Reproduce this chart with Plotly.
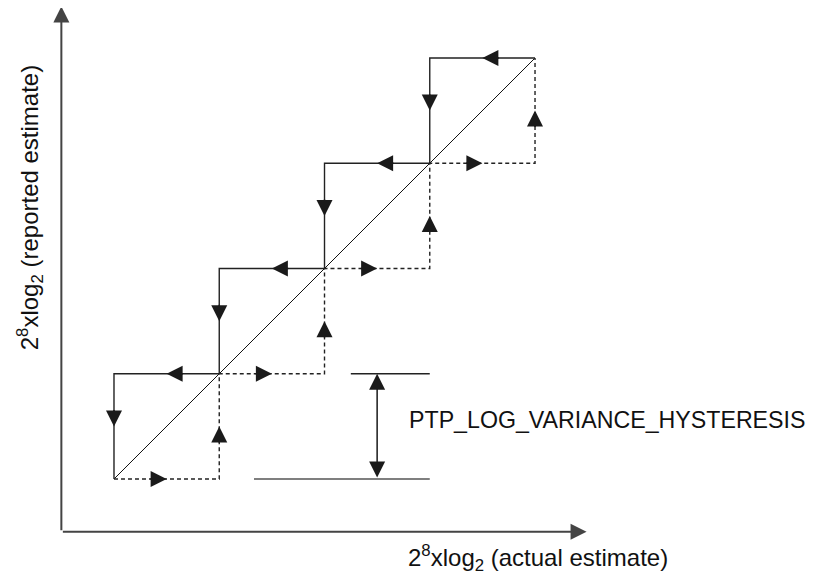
import plotly.graph_objects as go

# ---- data (logical units: one hysteresis step = 1) ----
upper_x = [0, 0, 1, 1, 2, 2, 3, 3, 4]   # solid path (estimate decreasing)
upper_y = [0, 1, 1, 2, 2, 3, 3, 4, 4]
lower_x = [0, 1, 1, 2, 2, 3, 3, 4, 4]   # dashed path (estimate increasing)
lower_y = [0, 0, 1, 1, 2, 2, 3, 3, 4]
diag = [0, 4]
hyst_x = 2.5            # position of the hysteresis dimension arrow
hyst_lo, hyst_hi = 0, 1
hyst_top_line = [2.25, 3]
hyst_bot_line = [1.33, 3]
axis_origin = -0.5       # where the axis lines cross
x_axis_end = 4.49
y_axis_end = 4.49

x_title = "2<sup>8</sup>xlog<sub>2</sub> (actual estimate)"
y_title = "2<sup>8</sup>xlog<sub>2</sub> (reported estimate)"
hyst_label = "PTP_LOG_VARIANCE_HYSTERESIS"

FONT = "Arial, Liberation Sans, Helvetica, sans-serif"
FS = 24
SCALE = 3.2  # arrow head scale (arrowwidth*arrowsize)

fig = go.Figure()
fig.add_trace(go.Scatter(x=diag, y=diag, mode="lines",
                         line=dict(color="#111", width=1), hoverinfo="skip"))
fig.add_trace(go.Scatter(x=upper_x, y=upper_y, mode="lines",
                         line=dict(color="#222", width=1.4), hoverinfo="skip"))
fig.add_trace(go.Scatter(x=lower_x, y=lower_y, mode="lines",
                         line=dict(color="#222", width=1.4, dash="4px,3px"),
                         hoverinfo="skip"))
# hysteresis reference lines
fig.add_trace(go.Scatter(x=hyst_top_line, y=[hyst_hi, hyst_hi], mode="lines",
                         line=dict(color="#222", width=1.3), hoverinfo="skip"))
fig.add_trace(go.Scatter(x=hyst_bot_line, y=[hyst_lo, hyst_lo], mode="lines",
                         line=dict(color="#555", width=1.6), hoverinfo="skip"))

annotations = []


def head(xt, yt, xs, ys, color="#1a1a1a", width=1.5):
    annotations.append(dict(
        x=xt, y=yt, ax=xs, ay=ys, xref="x", yref="y", axref="x", ayref="y",
        text="", showarrow=True, arrowhead=2, arrowsize=SCALE / width,
        arrowwidth=width, arrowcolor=color, standoff=0))


def path_arrows(xs, ys, reverse):
    pts = list(zip(xs, ys))
    if reverse:
        pts = pts[::-1]
    for (x0, y0), (x1, y1) in zip(pts[:-1], pts[1:]):
        mx, my = (x0 + x1) / 2, (y0 + y1) / 2
        dx, dy = x1 - x0, y1 - y0
        head(mx, my, mx - dx * 0.17, my - dy * 0.17)


path_arrows(upper_x, upper_y, reverse=True)
path_arrows(lower_x, lower_y, reverse=False)

# axes with arrowheads
for ex, ey in [(x_axis_end, axis_origin), (axis_origin, y_axis_end)]:
    annotations.append(dict(
        x=ex, y=ey, ax=axis_origin, ay=axis_origin,
        xref="x", yref="y", axref="x", ayref="y", text="", showarrow=True,
        arrowhead=2, arrowwidth=2, arrowsize=SCALE / 2, arrowcolor="#444",
        standoff=0))

# hysteresis double arrow
annotations.append(dict(
    x=hyst_x, y=hyst_hi, ax=hyst_x, ay=hyst_lo,
    xref="x", yref="y", axref="x", ayref="y", text="", showarrow=True,
    arrowhead=2, startarrowhead=2, arrowside="end+start",
    arrowwidth=1.5, arrowsize=SCALE / 1.5, startarrowsize=SCALE / 1.5,
    arrowcolor="#1a1a1a", standoff=0, startstandoff=0))

annotations.append(dict(
    x=2.79, y=0.56, xref="x", yref="y", text=hyst_label, showarrow=False,
    xanchor="left", yanchor="middle", borderpad=0,
    font=dict(family=FONT, size=23.2, color="#111")))
annotations.append(dict(
    x=2.77, y=-0.75, xref="x", yref="y", text=x_title, showarrow=False,
    xanchor="left", yanchor="middle", font=dict(family=FONT, size=FS, color="#111")))
annotations.append(dict(
    x=-0.79, y=2.58, xref="x", yref="y", text=y_title, showarrow=False,
    textangle=-90, xanchor="center", yanchor="middle",
    font=dict(family=FONT, size=FS, color="#111")))

# the page body adds an 8 px margin, so the figure is 8 px smaller
fig.update_layout(
    width=811, height=567,
    margin=dict(l=0, r=0, t=0, b=0),
    paper_bgcolor="white", plot_bgcolor="white",
    showlegend=False,
    xaxis=dict(range=[-1.007, 6.698], visible=False, fixedrange=True),
    yaxis=dict(range=[-0.912, 4.475], visible=False, fixedrange=True),
    annotations=annotations,
)

fig.write_html("out.html")
